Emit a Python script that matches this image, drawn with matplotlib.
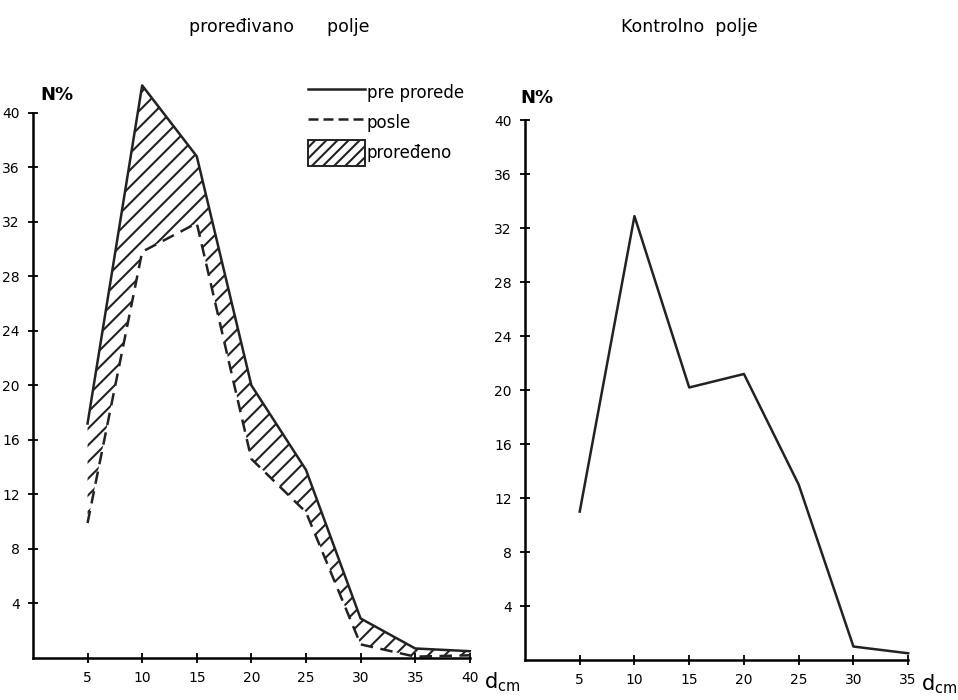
import numpy as np
import matplotlib
matplotlib.use("Agg")
import matplotlib.pyplot as plt
from matplotlib.patches import Patch
from matplotlib.lines import Line2D

# diameter classes (cm)
d_left = [5, 10, 15, 20, 25, 30, 35, 40]
pre_prorede = [17.2, 42.0, 36.8, 20.0, 13.8, 2.9, 0.7, 0.5]
posle = [9.9, 29.8, 31.9, 14.6, 10.7, 1.0, 0.1, 0.2]

d_right = [5, 10, 15, 20, 25, 30, 35]
kontrolno = [11.0, 32.9, 20.2, 21.2, 13.0, 1.0, 0.5]

y_ticks = [4, 8, 12, 16, 20, 24, 28, 32, 36, 40]

plt.rcParams['font.family'] = ['DejaVu Sans']
plt.rcParams['hatch.linewidth'] = 1.5

fig = plt.figure(figsize=(9.58, 7.0), dpi=100)
ax1 = fig.add_axes([0.0344, 0.060, 0.456, 0.779])
ax2 = fig.add_axes([0.548, 0.0571, 0.400, 0.771])


def style_axis(ax, xmax):
    ax.set_xlim(0, xmax)
    ax.set_ylim(0, 40)
    for s in ['top', 'right']:
        ax.spines[s].set_visible(False)
    for s in ['left', 'bottom']:
        ax.spines[s].set_linewidth(1.8)
    ax.set_yticks(y_ticks)
    ax.set_xticks(list(range(5, xmax + 1, 5)))
    ax.tick_params(direction='inout', length=7, width=1.3, labelsize=10,
                   pad=6)


style_axis(ax1, 40)
style_axis(ax2, 35)

# left panel: before / after thinning with hatched difference
ax1.fill_between(d_left, posle, pre_prorede, facecolor='none',
                 edgecolor='#222222', hatch='//', linewidth=0, clip_on=False)
ax1.plot(d_left, pre_prorede, color='#222222', lw=1.8, clip_on=False)
ax1.plot(d_left, posle, color='#222222', lw=1.8, ls=(0, (5, 3)),
         clip_on=False)

# right panel: control field
ax2.plot(d_right, kontrolno, color='#222222', lw=1.8, clip_on=False)

# legend
handles = [Line2D([], [], color='#222222', lw=1.8),
           Line2D([], [], color='#222222', lw=1.8, ls=(0, (4, 2))),
           Patch(facecolor='none', edgecolor='#222222', hatch='///',
                 lw=1.4)]
labels = ['pre prorede', 'posle', 'proređeno']
fig.legend(handles, labels, loc='upper left',
           bbox_to_anchor=(0.315, 0.895), frameon=False, fontsize=12,
           handlelength=3.4, handleheight=2.0, handletextpad=0.1,
           labelspacing=0.25, borderaxespad=0)

# titles and axis labels
fig.text(0.292, 0.962, 'proređivano      polje', ha='center', va='center',
         fontsize=12.5)
fig.text(0.72, 0.962, 'Kontrolno  polje', ha='center', va='center',
         fontsize=12.5)
fig.text(0.042, 0.864, 'N%', ha='left', va='center', fontsize=13,
         fontweight='bold')
fig.text(0.543, 0.860, 'N%', ha='left', va='center', fontsize=13,
         fontweight='bold')
fig.text(0.524, 0.026, r'$\mathregular{d_{cm}}$', ha='center', va='center',
         fontsize=15)
fig.text(0.98, 0.022, r'$\mathregular{d_{cm}}$', ha='center', va='center',
         fontsize=15)

fig.savefig('out.png', dpi=100)
